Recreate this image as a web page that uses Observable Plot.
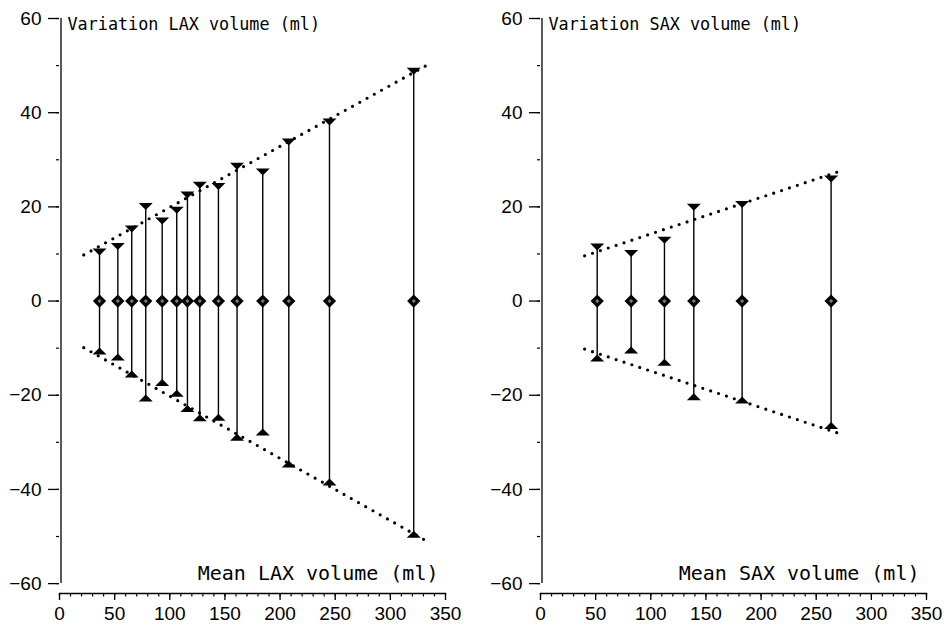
<!DOCTYPE html>
<html><head><meta charset="utf-8">
<script src="https://cdn.jsdelivr.net/npm/d3@7"></script>
<script src="https://cdn.jsdelivr.net/npm/@observablehq/plot@0.6"></script>
<style>
html,body{margin:0;padding:0;background:#fff;}
#wrap{position:relative;width:950px;height:629px;overflow:hidden;background:#fff;}
.panel{position:absolute;top:0;}
</style></head><body>
<div id="wrap"><div class="panel" id="p1" style="left:0px"></div><div class="panel" id="p2" style="left:481px"></div></div>
<script>
// ---- data ----
const laxMean  = [36.3, 52.9, 65.5, 78.2, 93.1, 106.3, 116, 127.2, 144.1, 161, 184.3, 207.9, 244.8, 321.2];
const laxUpper = [10.4, 11.6, 15.3, 20.1, 17.0, 19.3, 22.5, 24.6, 24.3, 28.6, 27.4, 33.8, 38.0, 48.8];
const laxLower = [-10.6, -11.9, -15.5, -20.6, -17.3, -19.6, -22.8, -24.8, -24.7, -28.9, -27.8, -34.6, -38.4, -49.5];
const laxCentre = [0, 0, 0, 0, 0, 0, 0, 0, 0, 0, 0, 0, 0, 0];

const saxMean  = [51.4, 82.2, 112.4, 139, 182.8, 263.5];
const saxUpper = [11.5, 10.1, 12.9, 19.9, 20.5, 25.9];
const saxLower = [-12.1, -10.4, -13.0, -20.3, -21.0, -26.4];
const saxCentre = [0, 0, 0, 0, 0, 0];

const laxEnvX = [22, 334];
const laxEnvUpper = [9.8, 50.2];
const laxEnvLower = [-9.9, -51.1];
const saxEnvX = [40, 270.5];
const saxEnvUpper = [9.6, 27.5];
const saxEnvLower = [-10.2, -28.1];

const xTicks = [0, 50, 100, 150, 200, 250, 300, 350];
const xMinorTicks = d3.range(0, 351, 10);
const yTicks = [-60, -40, -20, 0, 20, 40, 60];
const yMinorTicks = d3.range(-60, 61, 10);

const laxYLabel = "Variation LAX volume (ml)";
const laxXLabel = "Mean LAX volume (ml)";
const saxYLabel = "Variation SAX volume (ml)";
const saxXLabel = "Mean SAX volume (ml)";

// ---- symbols ----
const triDown = {draw(ctx, size) { const r = Math.sqrt(size / Math.PI);
  ctx.moveTo(-r, -0.5 * r); ctx.lineTo(r, -0.5 * r); ctx.lineTo(0, 0.5 * r); ctx.closePath(); }};
const triUp = {draw(ctx, size) { const r = Math.sqrt(size / Math.PI);
  ctx.moveTo(-r, 0.5 * r); ctx.lineTo(r, 0.5 * r); ctx.lineTo(0, -0.5 * r); ctx.closePath(); }};

const fmt = d => d < 0 ? "\u2212" + (-d) : String(d);

function panel(mean, upper, lower, centre, envX, envU, envL, yLabel, xLabel, width) {
  const pts = mean.map((m, i) => ({m, hi: upper[i], lo: lower[i], c: centre[i]}));
  const envUp = envX.map((x, i) => ({x, y: envU[i]}));
  const envLo = envX.map((x, i) => ({x, y: envL[i]}));
  const dotted = {strokeDasharray: "0 8.3", strokeLinecap: "round", strokeWidth: 3.2, stroke: "black"};
  return Plot.plot({
    width, height: 629,
    marginLeft: 59, marginRight: width - 445, marginTop: 18, marginBottom: 36,
    x: {domain: [0, 350], label: null},
    y: {domain: [-62.1, 60], label: null},
    style: {fontFamily: "'Liberation Sans', Arial, sans-serif", fontSize: "19px", color: "black", background: "white", overflow: "visible"},
    marks: [
      Plot.ruleX([0], {y1: d3.min(yTicks), y2: d3.max(yTicks), stroke: "black", strokeWidth: 1.3, dx: 1.5}),
      Plot.frame({anchor: "bottom", stroke: "black", strokeWidth: 1.3}),
      Plot.axisY({ticks: yTicks, tickSize: 11, tickPadding: 7, tickFormat: fmt, strokeWidth: 1.3}),
      Plot.axisY({ticks: yMinorTicks, tickSize: 3, tickFormat: () => "", strokeWidth: 1.2}),
      Plot.axisX({ticks: xTicks, tickSize: 7, tickPadding: 6, tickFormat: d => String(d), strokeWidth: 1.3}),
      Plot.axisX({ticks: xMinorTicks, tickSize: 3.5, tickFormat: () => "", strokeWidth: 1.2}),
      Plot.line(envUp, {x: "x", y: "y", ...dotted}),
      Plot.line(envLo, {x: "x", y: "y", ...dotted}),
      Plot.ruleX(pts, {x: "m", y1: "lo", y2: "hi", stroke: "black", strokeWidth: 1.4}),
      Plot.dot(pts, {x: "m", y: "hi", symbol: triDown, r: 7, fill: "black"}),
      Plot.dot(pts, {x: "m", y: "lo", symbol: triUp, r: 7, fill: "black"}),
      Plot.dot(pts, {x: "m", y: "c", symbol: "square", rotate: 45, r: 5.3, fill: "black"}),
      Plot.dot(pts, {x: "m", y: "c", symbol: "square", rotate: 45, r: 1.7, fill: "#777"}),
      Plot.text([yLabel], {text: d => d, frameAnchor: "top-left", textAnchor: "start", lineAnchor: "bottom", dx: 8, dy: 11,
        fontFamily: "'DejaVu Sans Mono', monospace", fontSize: 16.8, fill: "black"}),
      Plot.text([xLabel], {text: d => d, frameAnchor: "bottom-right", textAnchor: "end", lineAnchor: "bottom", dx: -7, dy: -14,
        fontFamily: "'DejaVu Sans Mono', monospace", fontSize: 20, fill: "black"})
    ]
  });
}

document.getElementById("p1").appendChild(panel(laxMean, laxUpper, laxLower, laxCentre, laxEnvX, laxEnvUpper, laxEnvLower, laxYLabel, laxXLabel, 475));
document.getElementById("p2").appendChild(panel(saxMean, saxUpper, saxLower, saxCentre, saxEnvX, saxEnvUpper, saxEnvLower, saxYLabel, saxXLabel, 469));
</script>
</body></html>
